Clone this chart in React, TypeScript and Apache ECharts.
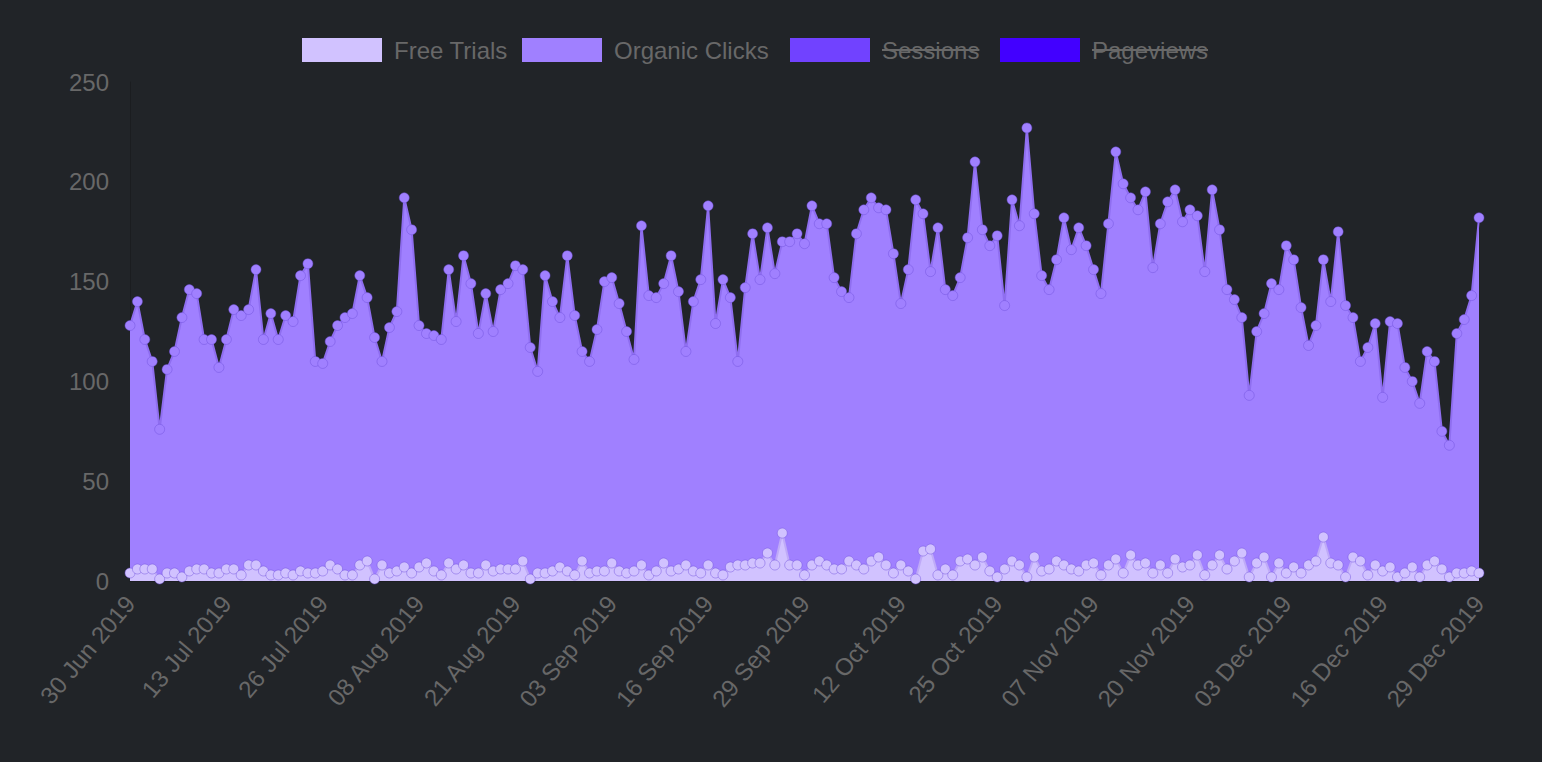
import React, { useEffect, useRef } from "react";
import * as echarts from "echarts";

const MONTHS = ["Jan", "Feb", "Mar", "Apr", "May", "Jun", "Jul", "Aug", "Sep", "Oct", "Nov", "Dec"];
const START_UTC = Date.UTC(2019, 5, 30);
const DAY_COUNT = 183;

const categories: string[] = Array.from({ length: DAY_COUNT }, (_, i) => {
  const d = new Date(START_UTC + i * 86400000);
  return `${String(d.getUTCDate()).padStart(2, "0")} ${MONTHS[d.getUTCMonth()]} ${d.getUTCFullYear()}`;
});

const organicClicks = [
  128, 140, 121, 110, 76, 106, 115, 132, 146, 144, 121, 121, 107, 121, 136, 133, 136, 156, 121, 134, 121, 133, 130, 153, 159, 110, 109, 120, 128, 132, 134,
  153, 142, 122, 110, 127, 135, 192, 176, 128, 124, 123, 121, 156, 130, 163, 149, 124, 144, 125, 146, 149, 158, 156, 117, 105, 153, 140, 132, 163, 133, 115,
  110, 126, 150, 152, 139, 125, 111, 178, 143, 142, 149, 163, 145, 115, 140, 151, 188, 129, 151, 142, 110, 147, 174, 151, 177, 154, 170, 170, 174, 169, 188,
  179, 179, 152, 145, 142, 174, 186, 192, 187, 186, 164, 139, 156, 191, 184, 155, 177, 146, 143, 152, 172, 210, 176, 168, 173, 138, 191, 178, 227, 184, 153,
  146, 161, 182, 166, 177, 168, 156, 144, 179, 215, 199, 192, 186, 195, 157, 179, 190, 196, 180, 186, 183, 155, 196, 176, 146, 141, 132, 93, 125, 134, 149,
  146, 168, 161, 137, 118, 128, 161, 140, 175, 138, 132, 110, 117, 129, 92, 130, 129, 107, 100, 89, 115, 110, 75, 68, 124, 131, 143, 182,
];

const freeTrials = [
  4, 6, 6, 6, 1, 4, 4, 2, 5, 6, 6, 4, 4, 6, 6, 3, 8, 8, 5, 3, 3, 4, 3, 5, 4, 4, 5, 8, 6, 3, 3, 8, 10, 1, 8, 4, 5, 7, 4, 7, 9, 5, 3, 9, 6,
  8, 4, 4, 8, 5, 6, 6, 6, 10, 1, 4, 4, 5, 7, 5, 3, 10, 4, 5, 5, 9, 5, 4, 5, 8, 3, 5, 9, 5, 6, 8, 5, 4, 8, 4, 3, 7, 8, 8, 9, 9, 14, 8, 24, 8, 8, 3,
  8, 10, 8, 6, 6, 10, 8, 6, 10, 12, 8, 4, 8, 5, 1, 15, 16, 3, 6, 3, 10, 11, 8, 12, 5, 2, 6, 10, 8, 2, 12, 5, 6, 10, 8, 6, 5, 8, 9, 3, 8, 11, 4, 13, 8, 9,
  4, 8, 4, 11, 7, 8, 13, 3, 8, 13, 6, 10, 14, 2, 9, 12, 2, 9, 4, 7, 4, 8, 10, 22, 9, 8, 2, 12, 10, 3, 8, 5, 7, 2, 4, 7, 2, 8, 10, 6, 2, 4, 4, 5, 4,
];

const sessions: number[] = [];
const pageviews: number[] = [];

const seriesNames = ["Free Trials", "Organic Clicks", "Sessions", "Pageviews"];
const hiddenNames = ["Sessions", "Pageviews"];

const Y_MIN = 0;
const Y_MAX = 250;
const Y_STEP = 50;

const COLORS: Record<string, string> = {
  "Free Trials": "#d1c2ff",
  "Organic Clicks": "#a080ff",
  Sessions: "#7142ff",
  Pageviews: "#4200ff",
};
const LINE_COLORS: Record<string, string> = {
  "Free Trials": "#bfaaf8",
  "Organic Clicks": "#8f6ef0",
};

const FONT = '"Liberation Sans", Arial, Helvetica, sans-serif';
const TEXT_COLOR = "#686868";
const BG = "#212428";
const LEGEND_LEFT = [302, 522, 790, 1000];
const LEGEND_TOP = 38;
const BOX_W = 80;
const BOX_H = 24;
const TEXT_GAP = 12;

function measure(text: string, size: number): number {
  const c = document.createElement("canvas");
  const ctx = c.getContext("2d");
  if (!ctx) return text.length * size * 0.5;
  ctx.font = `${size}px ${FONT}`;
  return ctx.measureText(text).width;
}

export default function App() {
  const ref = useRef<HTMLDivElement>(null);

  useEffect(() => {
    document.body.style.margin = "0";
    document.body.style.background = BG;
    if (!ref.current) return;
    const chart = echarts.init(ref.current, undefined, { renderer: "svg" });

    const lineSeries = (name: string, data: number[], z: number) => ({
      name,
      type: "line",
      data,
      z,
      symbol: "circle",
      symbolSize: 10,
      showSymbol: true,
      showAllSymbol: true,
      smooth: false,
      itemStyle: {
        color: COLORS[name],
        borderColor: "rgba(110,80,220,0.45)",
        borderWidth: 1,
      },
      lineStyle: { color: LINE_COLORS[name] || COLORS[name], width: 2 },
      areaStyle: { color: COLORS[name], opacity: 1, origin: "start" },
      emphasis: { disabled: true },
    });

    const strikes = hiddenNames.map((name) => {
      const idx = seriesNames.indexOf(name);
      const x1 = LEGEND_LEFT[idx] + BOX_W + TEXT_GAP;
      const w = measure(name, 24);
      return {
        type: "line",
        z: 100,
        shape: { x1: x1, y1: LEGEND_TOP + BOX_H / 2, x2: x1 + w, y2: LEGEND_TOP + BOX_H / 2 },
        style: { stroke: TEXT_COLOR, lineWidth: 2 },
      };
    });

    chart.setOption({
      animation: false,
      backgroundColor: BG,
      textStyle: { fontFamily: FONT },
      legend: seriesNames.map((name, i) => ({
        data: [name],
        left: LEGEND_LEFT[i],
        top: LEGEND_TOP,
        padding: 0,
        icon: "rect",
        itemWidth: BOX_W,
        itemHeight: BOX_H,
        selectedMode: false,
        itemStyle: { borderWidth: 0 },
        textStyle: { color: TEXT_COLOR, fontSize: 24, fontFamily: FONT, padding: [0, 0, 0, TEXT_GAP - 5] },
      })),
      grid: { left: 130, right: 63, top: 82, bottom: 181, containLabel: false },
      xAxis: {
        type: "category",
        data: categories,
        boundaryGap: false,
        axisLine: { show: true, lineStyle: { color: "rgba(0,0,0,0.18)", width: 1 } },
        axisTick: { show: false },
        splitLine: { show: false },
        axisLabel: {
          interval: 12,
          rotate: 50,
          color: TEXT_COLOR,
          fontSize: 24,
          fontFamily: FONT,
          margin: 18,
        },
      },
      yAxis: {
        type: "value",
        min: Y_MIN,
        max: Y_MAX,
        interval: Y_STEP,
        axisLine: { show: true, lineStyle: { color: "rgba(0,0,0,0.18)", width: 1 } },
        axisTick: { show: false },
        splitLine: { show: false },
        axisLabel: { color: TEXT_COLOR, fontSize: 24, fontFamily: FONT, margin: 21 },
      },
      series: [
        lineSeries("Organic Clicks", organicClicks, 2),
        lineSeries("Free Trials", freeTrials, 3),
        { name: "Sessions", type: "line", data: sessions, itemStyle: { color: COLORS.Sessions } },
        { name: "Pageviews", type: "line", data: pageviews, itemStyle: { color: COLORS.Pageviews } },
      ],
      graphic: strikes,
    });

    return () => chart.dispose();
  }, []);

  return <div ref={ref} style={{ width: 1542, height: 762 }} />;
}
